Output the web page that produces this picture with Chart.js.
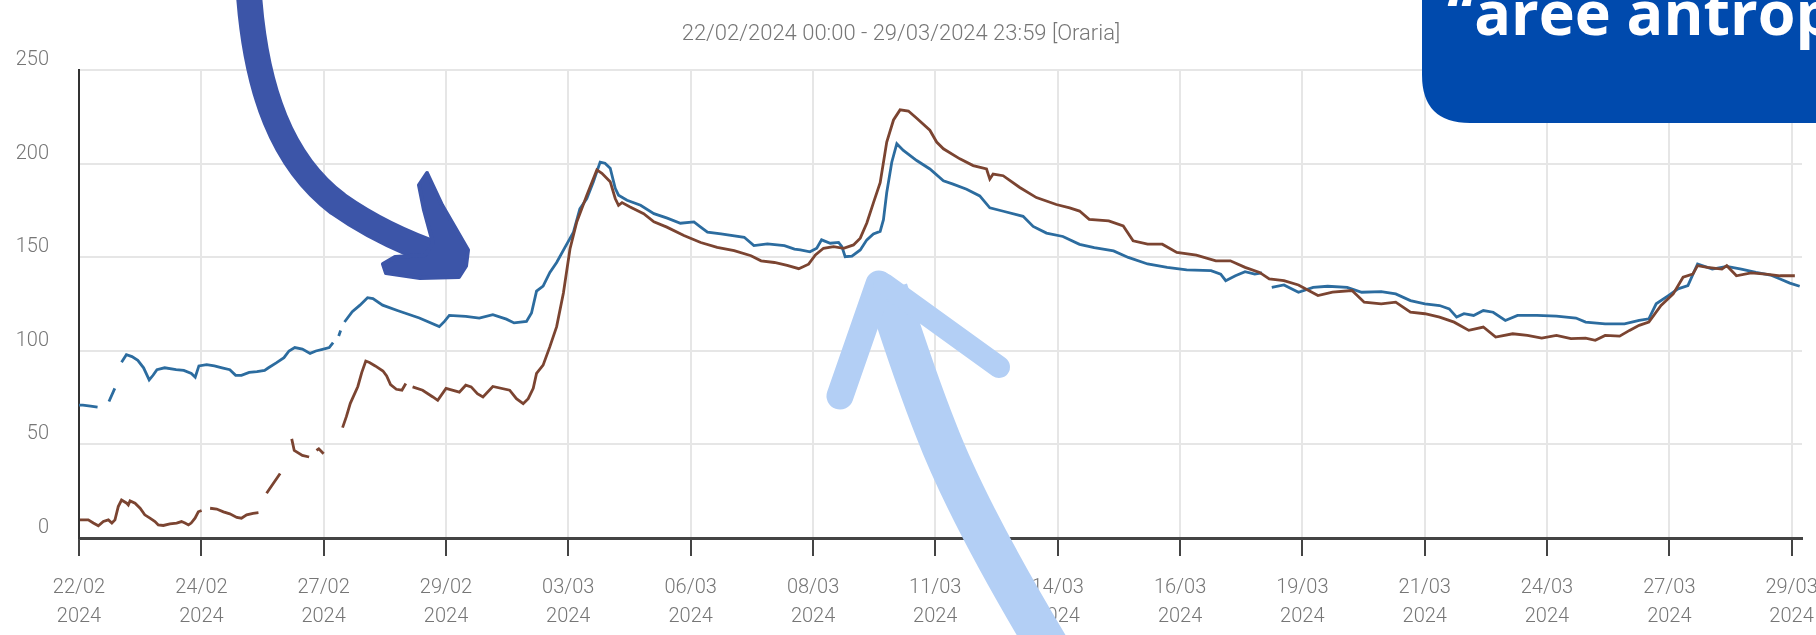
<!DOCTYPE html>
<html lang="it">
<head>
<meta charset="utf-8">
<title>Grafico orario</title>
<script src="https://cdn.jsdelivr.net/npm/chart.js@4.4.1/dist/chart.umd.min.js"></script>
<style>
  html, body { margin: 0; padding: 0; background: #ffffff; }
  #contenitore { position: relative; width: 1816px; height: 635px; overflow: hidden; }
  #contenitore canvas { position: absolute; left: 0; top: 0; }
  #sovrapposizione { position: absolute; left: 0; top: 0; pointer-events: none; }
</style>
</head>
<body>
<div id="contenitore">
  <canvas id="grafico" width="1816" height="635"></canvas>
  <svg id="sovrapposizione" width="1816" height="635" viewBox="0 0 1816 635">
    <!-- freccia blu scuro -->
    <path d="M249 -5 C 256 90, 282 162, 338 204 C 372 228, 405 243, 440 255" fill="none" stroke="#3c55a8" stroke-width="26" stroke-linecap="round"/>
    <path d="M427 173 L 442 205 L 468 250 L 466 266 L 459 277 L 420 278 L 386 273 L 383 264 L 395 257 L 425 255 L 433 243 L 424 210 L 419 185 Z" fill="#3c55a8" stroke="#3c55a8" stroke-width="4" stroke-linejoin="round"/>
    <!-- freccia azzurra -->
    <path d="M1050 650 C 1002 570, 959 490, 936 430 C 916 380, 900 330, 887 290" fill="none" stroke="#b3cff5" stroke-width="42"/>
    <path d="M879 284 L 840 396" fill="none" stroke="#b3cff5" stroke-width="27" stroke-linecap="round"/>
    <path d="M884 284 L 999 367" fill="none" stroke="#b3cff5" stroke-width="22" stroke-linecap="round"/>
    <!-- riquadro -->
    <path d="M1422 -10 L 1826 -10 L 1826 123 L 1470 123 Q 1422 123 1422 75 Z" fill="#004aad"/>
    <text x="1447" y="35" font-family="Open Sans" font-weight="700" font-size="61" fill="#ffffff">“aree antrop</text>
  </svg>
</div>
<script>
// dati: [ore dalle 22/02/2024 00:00, valore] (null = dato mancante)
const serieBlu = [
  [0,71],[2,71],[6,70.5],[9.6,70],[12,null],[15.5,73],[18.5,80],[20,null],[22,94],[24.5,98],
  [27.4,97],[30.4,95],[33.4,91],[36.3,84.5],[38.3,87],[40.3,90],[44.3,91],[50.2,90],[54.2,89.6],[58.1,88],
  [60.1,86],[62,92],[66,92.7],[70,92],[74,91],[78,90],[81,87],[84,87],[88,88.5],[92,89],
  [96,89.6],[98,91],[102,93.6],[106,96.4],[108.6,100],[111.6,101.8],[115.5,101],[119.5,98.7],[122.5,100],[126.4,101],
  [129.4,101.8],[131.4,104.5],[133,null],[134.3,108],[135.3,110.9],[136.3,null],[137.3,115.5],[141.3,121],[145.3,124.5],[149.2,128.5],
  [152,128],[157,124.5],[165,121.5],[176,117.6],[186.3,113],[189,115.8],[191.5,119],[200,118.5],[207,117.6],[214,119.4],
  [221,117],[225,115],[231.4,115.8],[234,120.3],[236.6,132],[240,134.7],[243.5,142],[247,147.3],[251.3,155.4],[255.7,163.5],
  [259,176],[262.6,181.5],[266,190.5],[269.5,201],[272,200.4],[274.7,197.7],[277.3,187],[279,183.3],[283.4,180.6],[290.4,177.9],
  [297.3,173.4],[304.2,171],[311,168.3],[318,169],[321.5,166.2],[325,163.5],[332,162.6],[344,160.8],[349,156.3],[356,157.2],
  [364.8,156.3],[370,154.5],[373,154],[378,153],[381.5,154.9],[384,159.4],[388.5,157.6],[392.8,158],[394.5,155.8],[396.2,150.4],
  [399.7,150.7],[404,154],[407.4,159.4],[410.8,162.6],[414.3,163.9],[416,170.2],[417.7,184.7],[420.3,200.9],[422.9,210.8],[426.3,207.2],
  [433.2,201.8],[440,197.3],[447,191],[452,189.2],[459,186.5],[465.8,182.9],[471,176.5],[478,174.7],[488.2,172],[493.4,166.6],
  [500.3,163],[508.8,161.2],[517.4,157],[525,155.3],[535,153.5],[542.6,150],[552.6,146.5],[562.7,144.7],[572.8,143.4],[585.4,142.9],
  [590.4,141.1],[593,137.6],[598,140.2],[603,142.4],[608,141.1],[611.8,141.7],[614,null],[616.8,134],[623.1,135.3],[630.6,131.4],
  [638.2,134],[645.7,134.6],[655.8,134],[663.3,131.4],[673.4,131.7],[680.9,130.5],[688.5,126.9],[696,125.2],[703.6,124.3],[708.6,122.5],
  [712.4,118.1],[716.2,119.9],[721.2,119],[726.2,121.6],[731.3,120.7],[737.6,116.3],[743.9,119],[753.9,119],[764,118.6],[774.1,117.6],
  [779.1,115.4],[789.2,114.5],[799.2,114.5],[806.8,116.3],[811.8,117.2],[815.6,125.2],[821.9,129.6],[826.9,133.2],[832,134.9],[837,146.5],
  [844.6,143.8],[852.1,145.2],[859.6,143.8],[867.2,142],[874.7,140.6],[879.7,138.5],[884.7,136.3],[889.8,134.6]
];
const serieMarrone = [
  [0.5,9.7],[4.8,9.7],[7.4,8],[10,6.5],[12.6,8.8],[15.2,9.7],[17,8],[18.6,9.7],[20.3,16.8],[22,20.3],
  [24.7,18.6],[25.5,17.7],[26.4,19.8],[29,18.6],[31.6,15.9],[34,12.4],[36.7,10.6],[39.3,8.8],[41,7],[43.6,6.7],
  [47,7.6],[50.5,8],[53,8.8],[54.8,8],[56.6,7],[58,8],[60,10.6],[61.7,14],[63.4,14.7],[65,null],
  [67.8,15.9],[71.2,15.5],[74.7,14],[78,12.9],[81.6,11],[84,10.6],[86.7,12.4],[90,13.2],[92.8,13.6],[94.5,null],
  [97,23.9],[104,34.5],[107,null],[110,53],[111.3,46.8],[115.5,44.2],[119,43.3],[121,null],[122.8,46.8],[124,47.7],
  [126.5,45],[130,null],[136.3,59],[138.3,65],[140.3,72],[144.2,81],[146.2,88.4],[148.3,94.6],[150.2,93.8],[153.2,92],
  [157.2,89.3],[159.1,86.6],[161.1,82],[164.1,79.5],[167,79],[169,82.6],[171,null],[172.5,80.8],[177.7,79],[183,75.4],
  [185.5,73.6],[189.8,80],[196.7,78],[200,81.7],[202.8,80.8],[206,77.2],[208.9,75.4],[214,81],[222.7,79],[226.2,74.5],
  [229.7,71.8],[232.3,74.5],[234.9,80],[236.6,88],[240,92.4],[243.5,102.3],[247,113],[250.5,131],[253.9,154.5],[257.4,169],
  [262.6,183.3],[267.8,196.8],[270.4,195],[274.7,190.5],[277.3,181.5],[279,177.9],[280.8,179.3],[285,177],[292,173.4],[297.3,169],
  [304,166.2],[312.8,161.7],[321.5,158],[330,155.4],[338.8,153.6],[347.5,150.9],[352.7,148.2],[359.6,147.3],[366.2,145.8],[372.2,144],
  [377.3,146.4],[380.8,151.3],[385,154.9],[390.2,155.8],[395.4,154.9],[400.5,156.7],[404,160.3],[407.4,168.4],[410.8,179.2],[414.3,190],
  [417.7,211.7],[421.2,223.5],[424.6,228.9],[428.9,228.3],[433.2,224.4],[440,218],[443.5,211.7],[447,208.1],[455.5,202.7],[462.4,199.1],
  [469.3,197.3],[471,191.9],[472.7,194.6],[477.9,193.7],[486.5,187.4],[495.1,182],[505.4,178.3],[512.3,176.5],[517.4,174.8],[522.4,170.4],
  [532.5,169.5],[540,166.8],[545.1,158.9],[552.6,157.1],[560.2,157.1],[567.7,152.7],[577.8,151.2],[587.9,148.2],[595.4,148.2],[603,144.7],
  [610.5,142],[615.5,138.5],[623.1,137.6],[630.6,135.3],[640.7,129.6],[648.2,131.4],[658.3,132.3],[664.6,126.1],[673.4,125.2],[680.9,126.1],
  [688.5,120.7],[696,119.9],[703.6,118.1],[711.1,115.4],[718.7,111],[726.2,112.8],[732.6,107.4],[741.4,109.2],[749,108.3],[756.4,106.9],
  [764,108.3],[771.5,106.6],[779.1,106.9],[784.1,105.7],[789.2,108.3],[796.7,107.9],[801.8,111],[806.8,113.7],[811.8,115.4],[818.1,124.3],
  [824.4,130.5],[829.5,139.4],[834.5,141.1],[837,145.6],[842.1,144.7],[849.6,143.8],[852.1,145.6],[857.1,140.2],[864.7,141.7],[872.2,141.1],
  [879.7,140.2],[887.3,140.2]
];

// asse x:
const oreTick = [0, 63.3, 126.5, 189.8, 253, 316.3, 379.6, 442.8, 506.1, 569.4, 632.6, 695.9, 759.1, 822.4, 885.6];
const etichetteTick = ["22/02", "24/02", "27/02", "29/02", "03/03", "06/03", "08/03", "11/03", "14/03", "16/03", "19/03", "21/03", "24/03", "27/03", "29/03"];
const anno = "2024";
const titolo = "22/02/2024 00:00 - 29/03/2024 23:59 [Oraria]";

const grigioTesto = "#767676";
const grigioGriglia = "#e6e6e6";
const fontAssi = { family: "Roboto", size: 20, weight: 300, lineHeight: 1.45 };

function puntiDa(serie) {
  return serie.map(([ora, valore]) => ({ x: ora, y: valore }));
}

new Chart(document.getElementById("grafico"), {
  type: "line",
  data: {
    datasets: [
      {
        label: "Serie marrone",
        data: puntiDa(serieMarrone),
        borderColor: "#7b4431",
        borderWidth: 2.8,
        pointRadius: 0,
        spanGaps: false,
        tension: 0,
      },
      {
        label: "Serie blu",
        data: puntiDa(serieBlu),
        borderColor: "#2c6c9f",
        borderWidth: 2.8,
        pointRadius: 0,
        spanGaps: false,
        tension: 0,
      },
    ],
  },
  options: {
    responsive: false,
    animation: false,
    layout: { autoPadding: false, padding: { right: 14 } },
    plugins: {
      legend: { display: false },
      tooltip: { enabled: false },
      title: {
        display: true,
        text: titolo,
        color: grigioTesto,
        font: { family: "Roboto", size: 22, weight: 300 },
        padding: { top: 21, bottom: 23 },
      },
    },
    scales: {
      x: {
        type: "linear",
        min: 0,
        max: 891,
        afterBuildTicks: (scala) => {
          scala.ticks = oreTick.map((v) => ({ value: v }));
        },
        afterFit: (scala) => {
          scala.height = 97;
          scala.paddingLeft = 0;
          scala.paddingRight = 0;
        },
        ticks: {
          autoSkip: false,
          maxRotation: 0,
          padding: 17,
          color: grigioTesto,
          font: fontAssi,
          callback: (valore, indice) => [etichetteTick[indice], anno],
        },
        grid: {
          color: grigioGriglia,
          lineWidth: 2,
          tickColor: "#444444",
          tickLength: 18,
          tickWidth: 2,
        },
        border: { color: "#444444", width: 3 },
      },
      y: {
        min: 0,
        max: 250,
        afterFit: (scala) => {
          scala.width = 79;
        },
        ticks: {
          stepSize: 50,
          padding: 30,
          labelOffset: -10,
          color: grigioTesto,
          font: fontAssi,
        },
        grid: { color: grigioGriglia, lineWidth: 2, drawTicks: false },
        border: { color: "#333333", width: 2 },
      },
    },
  },
});
</script>
</body>
</html>
